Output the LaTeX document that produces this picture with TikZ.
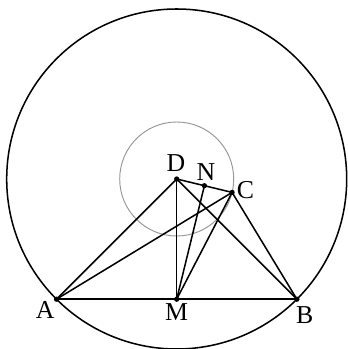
\documentclass[tikz,border=0pt]{standalone}
\usepackage{fontspec}
\setmainfont{Liberation Serif}
\usepackage{tikz}
\usetikzlibrary{calc}
\definecolor{ringgray}{RGB}{150,150,150}

\begin{document}
\begin{tikzpicture}[x=0.03cm, y=0.03cm,
  seg/.style={line width=1.3pt},
  pt/.style={circle, fill=black, inner sep=0pt, minimum size=4.5pt},
  lbl/.style={inner sep=0pt, font=\fontsize{22}{24}\selectfont}]
\useasboundingbox (-176.7,-170) rectangle (170.3,179);
% circles
\coordinate (D) at (0,0);
\draw[seg] (D) circle (170);
\draw[ringgray, line width=0.8pt] (D) circle (57);
% points
\coordinate (A) at (225:170);
\coordinate (B) at (-45:170);
\coordinate (M) at ($(A)!0.5!(B)$);
\coordinate (C) at (-13.6:57);
\coordinate (N) at ($(D)!0.5!(C)$);
% segments
\draw[seg] (A) -- (B);
\draw[seg] (A) -- (D) -- (B);
\draw[seg] (A) -- (C) -- (B);
\draw[seg] (D) -- (C);
\draw[seg] (D) -- (M);
\draw[seg] (M) -- (N);
\draw[seg] (M) -- (C);
\foreach \p in {A,B,M,C,N,D}
  \node[pt] at (\p) {};
% labels
\node[lbl] (lD) at ($(D)+(-0.7,16)$) {D};
\node[lbl] (lN) at ($(N)+(1.6,14)$) {N};
\node[lbl] (lC) at ($(C)+(13.4,2.4)$) {C};
\node[lbl] (lA) at ($(A)+(-11.2,-10.3)$) {A};
\node[lbl] (lM) at ($(M)+(0,-12.8)$) {M};
\node[lbl] (lB) at ($(B)+(7.8,-15.8)$) {B};
\end{tikzpicture}
\end{document}
